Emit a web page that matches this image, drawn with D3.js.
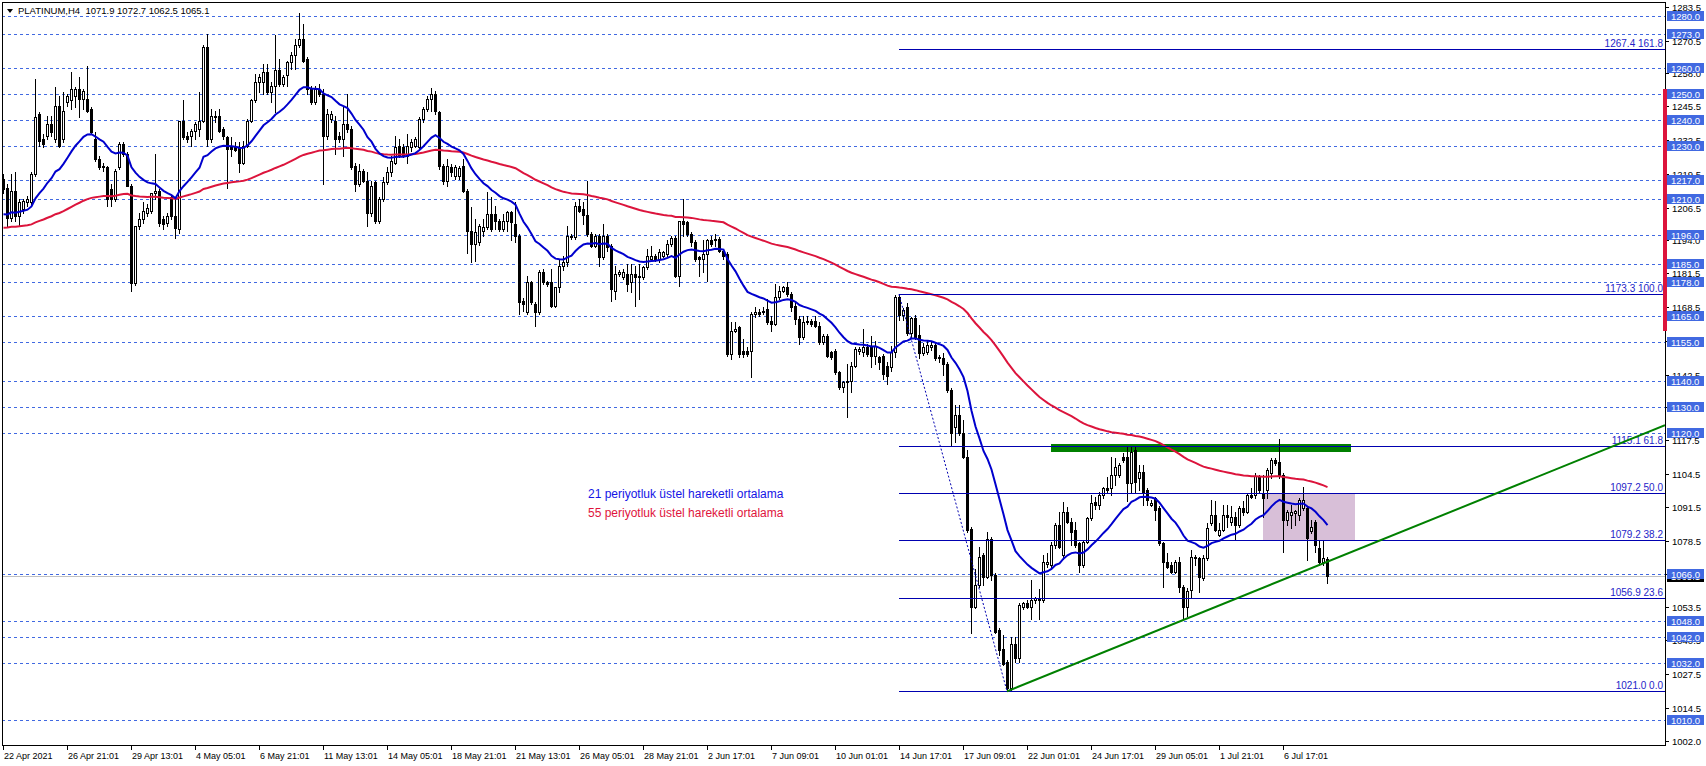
<!DOCTYPE html>
<html><head><meta charset="utf-8">
<script src="https://cdn.jsdelivr.net/npm/d3@7"></script>
<style>html,body{margin:0;padding:0;background:#fff;overflow:hidden}svg{display:block}text{font-family:"Liberation Sans",Arial,sans-serif}</style>
</head><body><svg id="c" width="1706" height="766"></svg>
<script>
// ---------------- DATA ----------------
const headerText = "PLATINUM,H4  1071.9 1072.7 1062.5 1065.1";
// H4 candles [open, high, low, close]
const ohlc = [
[1217.4,1219.4,1212.3,1213.6],[1214.2,1215.5,1199.5,1202.7],[1202.7,1219.4,1201.4,1213.0],[1213.0,1220.0,1201.4,1203.3],
[1203.3,1209.7,1199.5,1208.5],[1205.9,1209.7,1204.6,1209.1],[1208.5,1211.0,1207.2,1209.7],[1208.5,1220.0,1207.8,1219.4],
[1219.4,1255.9,1218.7,1241.2],[1242.4,1243.1,1230.3,1232.2],[1232.8,1234.7,1229.6,1230.9],[1234.1,1241.8,1232.8,1238.6],
[1238.6,1241.8,1234.1,1235.4],[1232.8,1252.7,1231.5,1245.6],[1245.6,1249.5,1229.6,1230.3],[1232.8,1250.8,1231.5,1243.7],
[1246.9,1250.1,1245.6,1249.5],[1247.6,1258.5,1244.4,1252.1],[1249.5,1252.7,1245.0,1252.1],[1252.1,1256.5,1241.2,1248.2],
[1248.2,1252.1,1244.4,1251.4],[1248.2,1261.0,1243.1,1243.7],[1244.4,1245.0,1234.7,1235.4],[1232.8,1235.4,1224.5,1225.1],
[1225.1,1226.4,1221.3,1221.9],[1221.9,1223.8,1220.6,1222.6],[1221.9,1222.6,1207.2,1209.7],[1213.6,1215.5,1207.2,1209.7],
[1209.7,1221.3,1209.1,1220.6],[1221.9,1231.5,1221.3,1230.9],[1230.9,1231.5,1226.4,1227.1],[1227.1,1227.7,1214.9,1214.9],
[1214.9,1215.5,1174.5,1177.7],[1177.7,1199.5,1177.0,1199.5],[1199.5,1204.6,1198.2,1202.1],[1202.1,1208.5,1200.8,1205.3],
[1204.6,1207.8,1203.3,1206.5],[1205.3,1212.3,1204.6,1212.3],[1212.3,1227.1,1209.7,1213.0],[1213.0,1213.6,1199.5,1200.8],
[1202.1,1203.3,1198.2,1200.1],[1200.8,1204.6,1199.5,1203.3],[1210.4,1211.0,1202.1,1203.3],[1203.3,1209.7,1195.0,1198.8],
[1198.2,1239.9,1196.9,1239.9],[1239.9,1247.6,1232.8,1233.5],[1234.1,1235.4,1231.5,1232.8],[1234.1,1236.7,1230.3,1236.0],
[1236.0,1239.2,1232.8,1238.6],[1236.7,1250.8,1234.1,1239.9],[1239.9,1268.7,1239.2,1268.1],[1268.1,1273.2,1230.3,1232.8],
[1232.8,1244.4,1231.5,1241.8],[1241.8,1243.7,1239.2,1241.2],[1241.8,1244.4,1235.4,1236.0],[1236.7,1237.3,1232.8,1234.1],
[1233.5,1234.1,1214.2,1229.0],[1230.3,1233.5,1226.4,1229.0],[1230.3,1231.5,1228.3,1228.7],[1229.6,1231.5,1220.0,1223.8],
[1223.8,1232.2,1223.2,1230.3],[1230.3,1240.5,1229.6,1239.9],[1239.9,1248.2,1239.2,1247.6],[1247.6,1257.8,1246.9,1254.6],
[1254.6,1257.8,1250.8,1256.5],[1254.6,1261.7,1250.1,1258.5],[1258.5,1261.7,1250.1,1250.8],[1250.8,1254.6,1246.9,1253.3],
[1253.3,1272.6,1243.1,1259.1],[1259.1,1263.6,1253.3,1254.0],[1254.0,1257.2,1253.3,1256.5],[1257.2,1262.9,1253.3,1262.3],
[1262.3,1266.2,1259.7,1264.9],[1264.9,1271.3,1259.7,1268.7],[1268.7,1281.3,1268.1,1271.3],[1271.3,1277.1,1262.3,1262.9],
[1263.6,1264.2,1250.1,1252.1],[1252.1,1253.3,1246.3,1246.9],[1246.9,1253.3,1246.3,1252.1],[1252.1,1254.0,1249.5,1250.1],
[1250.1,1252.1,1215.5,1234.1],[1234.1,1244.4,1232.8,1242.4],[1240.5,1243.7,1239.2,1242.4],[1239.9,1241.8,1227.1,1232.8],
[1234.1,1235.4,1231.5,1232.8],[1232.8,1245.0,1226.4,1238.6],[1238.6,1250.1,1235.4,1236.7],[1236.7,1238.0,1221.3,1221.9],
[1222.6,1223.8,1213.0,1215.5],[1215.5,1223.2,1214.9,1220.6],[1220.6,1221.3,1216.2,1216.8],[1216.8,1220.0,1199.5,1204.6],
[1204.6,1216.8,1203.3,1214.9],[1216.2,1216.8,1200.8,1201.4],[1201.4,1210.4,1200.8,1209.7],[1209.7,1218.1,1209.1,1216.2],
[1216.2,1221.9,1215.5,1220.0],[1220.0,1226.4,1218.7,1224.5],[1223.8,1234.1,1223.2,1229.6],[1230.3,1232.8,1225.8,1226.4],
[1229.6,1230.9,1225.8,1226.4],[1226.4,1234.7,1223.8,1230.3],[1229.6,1232.8,1228.3,1231.5],[1230.3,1233.5,1229.6,1232.8],
[1229.6,1241.2,1229.0,1240.5],[1240.5,1245.0,1239.2,1244.4],[1244.4,1249.5,1243.7,1248.2],[1248.2,1252.3,1243.7,1250.1],
[1250.1,1251.4,1242.4,1243.7],[1243.1,1243.7,1221.3,1222.6],[1222.6,1223.2,1215.5,1216.8],[1216.8,1225.1,1214.9,1222.6],
[1222.0,1223.3,1218.8,1220.1],[1218.8,1223.0,1217.5,1222.0],[1218.8,1222.6,1217.5,1221.6],[1222.6,1225.2,1212.4,1212.9],
[1212.9,1213.7,1189.0,1197.7],[1197.7,1206.7,1185.5,1192.6],[1192.6,1202.2,1186.0,1197.1],[1193.2,1200.3,1192.0,1199.6],
[1197.7,1202.2,1195.8,1199.0],[1199.0,1212.4,1198.3,1204.1],[1204.1,1210.5,1197.7,1198.3],[1204.1,1207.3,1198.3,1201.5],
[1201.5,1202.2,1197.7,1198.3],[1198.3,1204.1,1197.7,1201.5],[1201.5,1205.4,1197.7,1204.7],[1204.7,1205.4,1193.9,1200.9],
[1200.3,1208.6,1193.2,1195.8],[1195.8,1196.4,1165.7,1170.2],[1170.8,1172.0,1167.0,1169.6],[1166.4,1180.4,1165.7,1177.9],
[1177.9,1178.5,1169.6,1170.2],[1169.6,1170.2,1161.2,1166.4],[1166.4,1182.4,1165.7,1181.7],[1181.7,1183.0,1177.2,1177.9],
[1178.1,1178.5,1176.6,1177.2],[1177.9,1183.0,1168.3,1168.9],[1168.9,1176.0,1168.3,1176.0],[1176.0,1186.8,1174.0,1184.3],
[1184.3,1188.1,1182.4,1185.5],[1185.5,1199.6,1184.3,1195.8],[1195.8,1196.4,1194.5,1195.1],[1195.1,1208.6,1194.5,1207.3],
[1207.3,1209.9,1204.7,1205.4],[1206.0,1208.6,1200.3,1203.5],[1203.5,1216.9,1195.8,1196.4],[1196.4,1197.1,1191.3,1191.9],
[1191.9,1196.4,1191.3,1195.8],[1195.8,1196.4,1184.3,1187.5],[1187.5,1200.3,1186.8,1195.8],[1195.8,1196.4,1190.0,1191.3],
[1191.9,1192.6,1170.8,1175.3],[1174.7,1184.3,1171.5,1181.1],[1181.1,1182.4,1180.4,1181.7],[1179.8,1183.0,1179.2,1181.7],
[1181.1,1184.9,1174.7,1177.2],[1177.9,1184.9,1174.0,1181.1],[1181.1,1184.3,1168.9,1179.8],[1179.8,1184.9,1171.5,1180.4],
[1179.8,1184.3,1179.2,1183.6],[1183.6,1190.7,1183.0,1188.1],[1186.8,1191.9,1186.2,1188.1],[1188.1,1188.7,1186.2,1186.8],
[1186.8,1190.7,1185.5,1189.4],[1188.1,1190.0,1187.5,1189.4],[1188.7,1193.9,1188.1,1192.6],[1192.6,1195.8,1191.9,1194.9],
[1194.9,1195.8,1179.8,1180.4],[1180.4,1201.5,1176.6,1201.3],[1201.5,1209.9,1195.8,1200.3],[1200.9,1201.5,1195.8,1196.4],
[1196.4,1197.1,1191.9,1193.2],[1193.2,1193.9,1186.2,1186.8],[1187.5,1188.1,1180.4,1186.8],[1186.8,1193.9,1181.7,1188.7],
[1188.7,1194.5,1178.5,1193.9],[1193.9,1195.8,1191.9,1192.6],[1193.9,1196.4,1191.9,1194.5],[1194.5,1195.1,1189.4,1190.0],
[1190.0,1190.7,1186.8,1188.1],[1188.7,1189.4,1149.7,1150.4],[1150.4,1162.5,1148.5,1159.3],[1159.3,1162.5,1158.7,1160.0],
[1160.6,1161.2,1149.1,1150.4],[1151.6,1156.1,1149.1,1150.4],[1151.6,1152.9,1149.7,1150.4],[1151.6,1166.4,1141.4,1165.7],
[1165.7,1168.3,1164.4,1166.4],[1166.4,1167.6,1165.1,1165.7],[1166.4,1168.3,1165.7,1167.0],[1167.6,1171.5,1161.9,1162.5],
[1163.2,1165.1,1159.3,1161.9],[1161.9,1177.2,1161.3,1172.1],[1172.1,1176.6,1171.5,1174.7],[1174.7,1176.6,1174.0,1176.0],
[1176.0,1177.9,1172.8,1173.4],[1173.4,1174.0,1167.0,1168.3],[1168.9,1170.2,1161.9,1163.8],[1163.8,1165.1,1154.2,1156.8],
[1156.8,1165.1,1156.1,1162.5],[1162.5,1165.1,1161.9,1163.2],[1163.2,1163.8,1161.2,1161.9],[1163.2,1165.1,1160.6,1161.2],
[1161.2,1162.5,1154.2,1154.9],[1154.9,1158.0,1154.2,1157.4],[1157.4,1158.0,1149.1,1149.7],[1151.0,1151.6,1148.5,1149.1],
[1151.6,1152.2,1142.7,1143.3],[1143.3,1144.0,1136.9,1137.6],[1137.6,1140.1,1135.7,1139.5],[1139.5,1146.5,1126.1,1140.1],
[1140.1,1147.2,1135.7,1145.9],[1145.9,1152.9,1145.3,1152.3],[1151.6,1152.9,1150.4,1152.3],[1151.0,1160.0,1149.7,1152.9],
[1152.9,1154.2,1149.7,1150.4],[1153.6,1157.4,1145.3,1149.7],[1149.7,1155.5,1146.5,1153.6],[1149.1,1149.7,1144.6,1147.2],
[1149.7,1150.4,1140.8,1142.7],[1145.9,1147.2,1138.9,1142.1],[1145.3,1153.6,1144.0,1151.0],[1151.0,1173.0,1149.1,1172.1],
[1172.1,1173.3,1163.4,1165.3],[1165.3,1168.0,1163.4,1167.2],[1168.5,1170.0,1157.6,1158.3],[1158.3,1164.7,1156.5,1164.3],
[1164.3,1165.3,1156.0,1157.0],[1157.6,1161.5,1148.7,1150.6],[1150.6,1154.5,1149.9,1153.1],[1151.2,1155.5,1150.3,1153.8],
[1153.1,1155.1,1151.8,1153.8],[1153.8,1154.4,1148.0,1148.7],[1149.3,1150.0,1147.4,1148.7],[1148.7,1150.6,1142.3,1146.7],
[1146.7,1147.4,1135.9,1136.5],[1136.5,1137.2,1115.4,1119.9],[1122.4,1130.8,1116.7,1127.0],[1127.0,1130.8,1119.3,1119.9],
[1119.9,1125.0,1110.3,1111.0],[1111.0,1113.5,1082.2,1082.8],[1083.4,1084.0,1043.2,1053.4],[1053.4,1068.1,1052.8,1061.7],
[1061.7,1076.4,1061.1,1072.6],[1073.2,1073.9,1061.7,1064.9],[1064.9,1082.2,1064.3,1079.6],[1079.6,1080.2,1063.6,1065.5],
[1065.5,1066.2,1043.2,1043.8],[1044.5,1045.1,1034.9,1036.8],[1037.4,1042.5,1031.0,1031.6],[1032.3,1032.9,1021.0,1022.1],
[1022.1,1041.9,1021.2,1039.3],[1039.3,1041.9,1032.3,1033.6],[1033.6,1054.7,1032.3,1054.0],[1053.4,1055.3,1052.4,1054.7],
[1054.7,1056.0,1052.8,1053.4],[1053.4,1063.6,1048.9,1055.9],[1055.9,1057.2,1054.7,1056.6],[1056.6,1060.4,1048.9,1055.9],
[1055.9,1073.2,1055.3,1070.7],[1070.0,1073.9,1068.7,1070.7],[1069.4,1078.3,1068.7,1077.1],[1077.1,1085.4,1075.8,1084.7],
[1084.7,1089.9,1075.8,1076.4],[1073.2,1093.7,1071.9,1089.9],[1089.9,1091.8,1085.4,1086.0],[1086.0,1087.3,1077.1,1082.2],
[1082.8,1086.0,1076.4,1077.1],[1077.7,1078.3,1066.8,1069.4],[1069.4,1079.0,1068.7,1078.3],[1078.3,1087.9,1077.7,1087.3],
[1087.3,1096.2,1086.6,1093.1],[1093.7,1095.6,1091.1,1092.4],[1092.4,1097.5,1091.1,1096.2],[1096.2,1099.4,1095.0,1098.8],
[1098.8,1103.2,1097.5,1098.2],[1098.8,1110.9,1096.2,1104.0],[1104.0,1110.4,1100.1,1107.2],[1104.0,1108.5,1103.3,1107.8],
[1111.0,1112.3,1109.1,1109.7],[1111.0,1114.9,1093.8,1100.8],[1100.8,1114.9,1097.6,1112.9],[1113.6,1114.9,1097.6,1101.4],
[1102.7,1107.8,1098.2,1105.3],[1105.3,1107.8,1092.5,1097.6],[1098.2,1098.9,1092.5,1094.4],[1092.5,1094.4,1091.9,1093.4],
[1095.0,1095.7,1086.7,1090.6],[1091.2,1091.9,1077.1,1077.8],[1077.8,1078.4,1061.2,1070.7],[1070.7,1073.9,1068.2,1068.8],
[1069.5,1070.7,1066.3,1066.9],[1066.9,1071.4,1066.3,1070.7],[1070.7,1072.6,1059.2,1061.2],[1061.2,1061.8,1048.6,1053.4],
[1053.4,1060.6,1050.0,1059.3],[1059.9,1075.2,1057.3,1072.6],[1072.6,1073.3,1069.5,1072.0],[1072.0,1072.6,1059.2,1065.0],
[1064.4,1073.3,1063.7,1072.0],[1072.0,1085.4,1071.4,1083.5],[1085.4,1094.4,1084.8,1088.6],[1088.6,1093.8,1082.3,1082.9],
[1081.0,1085.4,1080.4,1082.9],[1082.9,1092.5,1082.3,1088.6],[1088.6,1092.5,1084.2,1088.0],[1086.1,1091.9,1084.8,1088.0],
[1088.0,1089.9,1079.1,1084.8],[1084.8,1091.9,1084.2,1091.2],[1091.2,1093.8,1088.6,1089.9],[1089.9,1097.0,1089.3,1096.3],
[1096.3,1098.9,1095.0,1095.7],[1096.3,1104.6,1095.0,1103.4],[1103.4,1104.0,1097.0,1098.2],[1097.0,1104.0,1088.0,1095.0],
[1098.2,1106.5,1095.0,1105.9],[1104.6,1110.4,1102.7,1109.7],[1109.7,1110.4,1107.8,1108.5],[1109.1,1117.7,1102.7,1104.0],
[1104.0,1104.6,1074.6,1086.7],[1086.7,1090.6,1084.8,1089.9],[1088.6,1092.5,1083.5,1089.9],[1089.3,1090.6,1084.8,1090.2],
[1088.6,1095.0,1086.7,1094.4],[1091.2,1099.5,1090.6,1094.4],[1091.2,1091.9,1071.4,1079.7],[1082.3,1086.7,1081.6,1084.2],
[1086.1,1086.7,1074.6,1077.1],[1075.9,1079.1,1069.5,1070.7],[1070.7,1079.1,1069.5,1072.0],[1071.9,1072.7,1062.5,1065.1]
];
const timeTickIndex = [0,16,32,48,64,80,96,112,128,144,160,176,192,208,224,240,256,272,288,304,320];
const timeTickLabels = ["22 Apr 2021","26 Apr 21:01","29 Apr 13:01","4 May 05:01","6 May 21:01","11 May 13:01","14 May 05:01","18 May 21:01","21 May 13:01","26 May 05:01","28 May 21:01","2 Jun 17:01","7 Jun 09:01","10 Jun 01:01","14 Jun 17:01","17 Jun 09:01","22 Jun 01:01","24 Jun 17:01","29 Jun 05:01","1 Jul 21:01","6 Jul 17:01"];
const priceTicks = [1283.5,1270.5,1258.0,1245.5,1232.5,1219.5,1206.5,1194.0,1181.5,1168.5,1155.5,1142.5,1130.0,1117.5,1104.5,1091.5,1078.5,1066.0,1053.5,1040.5,1027.5,1014.5,1002.0];
const levelLines = [1280,1273,1260,1250,1240,1230,1217,1210,1196,1185,1178,1165,1155,1140,1130,1120,1066,1048,1042,1032,1010];
const fibLevels = [1267.4,1173.3,1115.1,1097.2,1079.2,1056.9,1021.0];
const fibRatios = ["161.8","100.0","61.8","50.0","38.2","23.6","0.0"];
const fibAnchors = [[224,1173.3],[251,1021.0]];
const trendAnchors = [[251,1021.0],[295,1048.3]];
const resistanceBar = {from:262, to:337, low:1112.8, high:1115.9};
const zoneBox = {from:315, to:338, low:1079.2, high:1097.2};
const maSeeds = {fast:1204.0, slow:1198.8};
const maPeriods = {fast:21, slow:55};
const bidPrice = 1065.1;
const redBarRange = [1252.0, 1159.2];
const legendLines = ["21 periyotluk üstel hareketli ortalama","55 periyotluk üstel hareketli ortalama"];

// ---------------- LAYOUT ----------------
const W=1706,H=766, PL=2, PR=1665, PT=2, PB=745;
const svg=d3.select("#c");
svg.append("rect").attr("width",W).attr("height",H).attr("fill","#fff");
const x=d3.scaleLinear().domain([0,331]).range([3,1327]);
const y=d3.scaleLinear().domain([1010,1280]).range([720,16]);
const ry=v=>Math.round(y(v));
svg.append("defs").append("clipPath").attr("id","plot").append("rect").attr("x",PL).attr("y",PT).attr("width",PR-PL).attr("height",PB-PT);
const g=svg.append("g").attr("clip-path","url(#plot)");

// dashed level lines
g.selectAll("line.lv").data(levelLines).enter().append("line")
 .attr("x1",PL).attr("x2",PR).attr("y1",d=>ry(d)+0.5).attr("y2",d=>ry(d)+0.5)
 .attr("stroke","#4169e1").attr("stroke-dasharray","3,3").attr("stroke-width",1);
// bid line
g.append("line").attr("x1",PL).attr("x2",PR).attr("y1",ry(bidPrice)+0.5).attr("y2",ry(bidPrice)+0.5).attr("stroke","#c0c0c0");
// zone
g.append("rect").attr("x",Math.round(x(zoneBox.from))).attr("width",Math.round(x(zoneBox.to))-Math.round(x(zoneBox.from)))
 .attr("y",ry(zoneBox.high)).attr("height",ry(zoneBox.low)-ry(zoneBox.high)).attr("fill","#d8bfd8");
// green resistance bar
g.append("rect").attr("x",Math.round(x(resistanceBar.from))).attr("width",Math.round(x(resistanceBar.to))-Math.round(x(resistanceBar.from)))
 .attr("y",ry(resistanceBar.high)).attr("height",ry(resistanceBar.low)-ry(resistanceBar.high)).attr("fill","#008000");

// candles
const cg=g.append("g");
ohlc.forEach((d,i)=>{
  const [o,h,l,c]=d; const cx=Math.round(x(i));
  const yh=ry(h), yl=ry(l);
  cg.append("rect").attr("x",cx).attr("y",yh).attr("width",1).attr("height",Math.max(1,yl-yh+1)).attr("fill","#000");
  const top=ry(Math.max(o,c)), bot=ry(Math.min(o,c)); const hh=Math.max(1,bot-top+1);
  cg.append("rect").attr("x",cx-1).attr("y",top).attr("width",3).attr("height",hh).attr("fill","#000");
  if(c>o && hh>2) cg.append("rect").attr("x",cx).attr("y",top+1).attr("width",1).attr("height",hh-2).attr("fill","#fff");
});

// moving averages (fast: exponential, slow: smoothed as drawn by the terminal)
function ema(closes,period,seed){const k=2/(period+1);const out=[seed];for(let i=1;i<closes.length;i++)out.push(out[i-1]+k*(closes[i]-out[i-1]));return out;}
function smma(closes,period,seed){const out=[seed];for(let i=1;i<closes.length;i++)out.push((out[i-1]*(period-1)+closes[i])/period);return out;}
const closes=ohlc.map(d=>d[3]);
const maFast=ema(closes,maPeriods.fast,maSeeds.fast), maSlow=smma(closes,maPeriods.slow,maSeeds.slow);
const ln=d3.line().x((d,i)=>x(i)+0.5).y(d=>y(d));
g.append("path").datum(maSlow).attr("d",ln).attr("fill","none").attr("stroke","#dc143c").attr("stroke-width",2);
g.append("path").datum(maFast).attr("d",ln).attr("fill","none").attr("stroke","#0000cd").attr("stroke-width",2);

// fib lines
const fx0=Math.round(x(fibAnchors[0][0]));
fibLevels.forEach((lv,k)=>{
  g.append("line").attr("x1",fx0).attr("x2",PR).attr("y1",ry(lv)+0.5).attr("y2",ry(lv)+0.5).attr("stroke","#0000b0");
  g.append("text").attr("x",PR-2).attr("y",ry(lv)-2).attr("text-anchor","end").attr("font-size","10px").attr("fill","#2424c8")
   .text(lv.toFixed(1)+" "+fibRatios[k]);
});
g.append("line").attr("x1",x(fibAnchors[0][0])).attr("y1",y(fibAnchors[0][1])).attr("x2",x(fibAnchors[1][0])).attr("y2",y(fibAnchors[1][1]))
 .attr("stroke","#0000b0").attr("stroke-dasharray","2,2");

// trend line (ray)
const slope=(trendAnchors[1][1]-trendAnchors[0][1])/(trendAnchors[1][0]-trendAnchors[0][0]);
const iEnd=x.invert(PR);
g.append("line").attr("x1",x(trendAnchors[0][0])).attr("y1",y(trendAnchors[0][1]))
 .attr("x2",PR).attr("y2",y(trendAnchors[0][1]+slope*(iEnd-trendAnchors[0][0])))
 .attr("stroke","#008000").attr("stroke-width",2);

// legend
svg.append("text").attr("x",588).attr("y",498).attr("font-size","12px").attr("fill","#1414e6").text(legendLines[0]);
svg.append("text").attr("x",588).attr("y",517).attr("font-size","12px").attr("fill","#e0143c").text(legendLines[1]);

// frame
svg.append("rect").attr("x",PL+0.5).attr("y",PT+0.5).attr("width",PR-PL).attr("height",PB-PT).attr("fill","none").attr("stroke","#000");

// price axis
priceTicks.forEach(p=>{
  const yy=ry(p);
  svg.append("line").attr("x1",PR).attr("x2",PR+4).attr("y1",yy+0.5).attr("y2",yy+0.5).attr("stroke","#000");
  svg.append("text").attr("x",1672).attr("y",yy+3.5).attr("font-size","9.5px").attr("fill","#000").text(p.toFixed(1));
});
// red bar
svg.append("rect").attr("x",1663).attr("width",4).attr("y",ry(redBarRange[0])).attr("height",ry(redBarRange[1])-ry(redBarRange[0])).attr("fill","#dc143c");
// bid label
svg.append("rect").attr("x",1667).attr("width",37).attr("y",ry(bidPrice)-5).attr("height",11).attr("fill","#000");
svg.append("text").attr("x",1671).attr("y",ry(bidPrice)+4).attr("font-size","9.5px").attr("fill","#fff").text(bidPrice.toFixed(1));
// level labels
levelLines.forEach(p=>{
  const yy=ry(p);
  svg.append("rect").attr("x",1667).attr("width",37).attr("y",yy-5).attr("height",10).attr("fill","#4169e1");
  svg.append("text").attr("x",1671).attr("y",yy+3.5).attr("font-size","9.5px").attr("fill","#fff").text(p.toFixed(1));
});

// time axis
timeTickIndex.forEach((ti,k)=>{
  const xx=Math.round(x(ti));
  svg.append("line").attr("x1",xx+0.5).attr("x2",xx+0.5).attr("y1",PB).attr("y2",PB+5).attr("stroke","#000");
  svg.append("text").attr("x",xx+1).attr("y",759).attr("font-size","9px").attr("fill","#000").text(timeTickLabels[k]);
});

// header
svg.append("path").attr("d","M7,9 L13,9 L10,13 Z").attr("fill","#000");
svg.append("text").attr("x",18).attr("y",14).attr("font-size","9.5px").attr("fill","#000").attr("xml:space","preserve").style("white-space","pre").text(headerText);
</script></body></html>
